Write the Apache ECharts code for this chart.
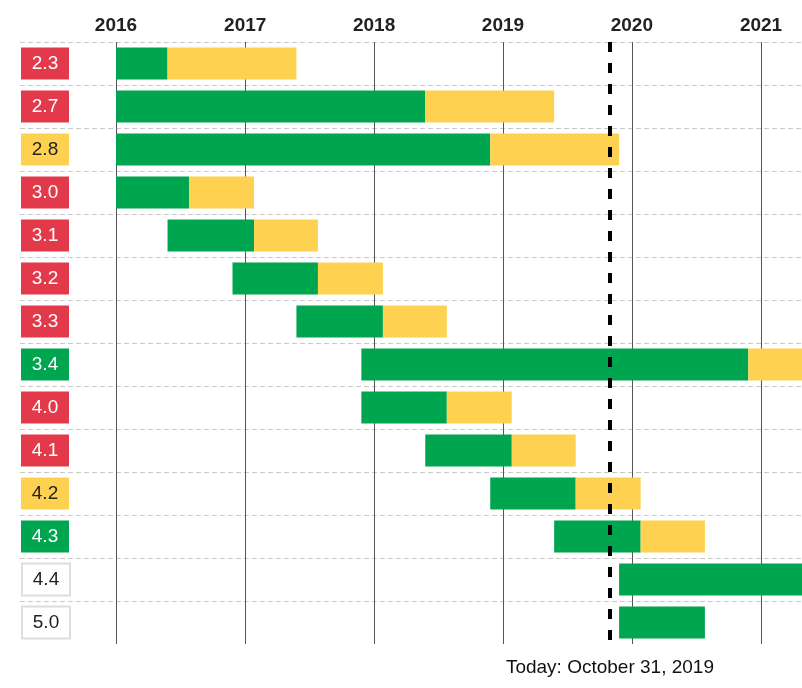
<!DOCTYPE html>
<html>
<head>
<meta charset="utf-8">
<script src="https://cdn.jsdelivr.net/npm/echarts@6/dist/echarts.min.js"></script>
<style>
html,body{margin:0;padding:0;background:#fff;}
#chart{width:802px;height:688px;}
</style>
</head>
<body>
<div id="chart"></div>
<script>
// ---- data ----
const versions = ['2.3','2.7','2.8','3.0','3.1','3.2','3.3','3.4','4.0','4.1','4.2','4.3','4.4','5.0'];
const versionStatus = ['eol','eol','security','eol','eol','eol','eol','active','eol','eol','security','active','future','future'];
const releaseDates = ['2013-05-26','2015-05-26','2015-11-26','2015-11-26','2016-05-26','2016-11-26','2017-05-26','2017-11-26','2017-11-26','2018-05-26','2018-11-26','2019-05-26','2019-11-26','2019-11-26'];
const endOfMaintenance = ['2016-05-26','2018-05-26','2018-11-26','2016-07-26','2017-01-26','2017-07-26','2018-01-26','2020-11-26','2018-07-26','2019-01-26','2019-07-26','2020-01-26','2022-11-26','2020-07-26'];
const endOfLife = ['2017-05-26','2019-05-26','2019-11-26','2017-01-26','2017-07-26','2018-01-26','2018-07-26','2021-11-26','2019-01-26','2019-07-26','2020-01-26','2020-07-26','2023-11-26',null];
const todayDate = '2019-10-31';
const todayLabel = 'Today: October 31, 2019';
const axisMin = '2016-01-01';
const axisMax = '2021-04-27';

const GREEN = '#00a64f', YELLOW = '#fed250', RED = '#e23a4b';
const FONT = 'Liberation Sans, Arial, sans-serif';

const maintData = versions.map((v, i) => [i, releaseDates[i], endOfMaintenance[i]]);
const securityData = versions.map((v, i) => endOfLife[i] ? [i, endOfMaintenance[i], endOfLife[i]] : null).filter(Boolean);

function renderItem(params, api) {
  const cat = api.value(0);
  const p0 = api.coord([api.value(1), cat]);
  const p1 = api.coord([api.value(2), cat]);
  const h = api.size([0, 1])[1] * 0.745;
  const cs = params.coordSys;
  const shape = echarts.graphic.clipRectByRect(
    { x: p0[0], y: p0[1] - h / 2, width: p1[0] - p0[0], height: h },
    { x: cs.x, y: cs.y, width: cs.width, height: cs.height }
  );
  return shape && { type: 'rect', shape: shape, style: { fill: api.visual('color') } };
}

const dims = ['cat', { name: 'start', type: 'time' }, { name: 'end', type: 'time' }];

const chart = echarts.init(document.getElementById('chart'));
chart.setOption({
  animation: false,
  textStyle: { fontFamily: FONT },
  grid: [
    { left: 116, right: 0, top: 42, height: 602, outerBoundsMode: 'none', containLabel: false },
    { left: 20, right: 0, top: 42, height: 602, outerBoundsMode: 'none', containLabel: false }
  ],
  xAxis: [
    {
      type: 'time', gridIndex: 0, position: 'top',
      min: axisMin, max: axisMax, splitNumber: 5,
      axisLine: { show: false }, axisTick: { show: false },
      splitLine: { show: true, lineStyle: { color: '#555', width: 1 } },
      axisLabel: {
        margin: 7, fontSize: 19, fontWeight: 'bold', color: '#222', fontFamily: FONT,
        showMinLabel: true, showMaxLabel: true,
        formatter: function (v) {
          const d = new Date(v);
          return (d.getMonth() === 0 && d.getDate() === 1) ? String(d.getFullYear()) : '';
        }
      }
    },
    { type: 'value', gridIndex: 1, show: false }
  ],
  yAxis: [
    {
      type: 'category', gridIndex: 0, inverse: true, data: versions,
      axisLine: { show: false }, axisTick: { show: false }, splitLine: { show: false },
      axisLabel: {
        margin: 47, fontFamily: FONT,
        formatter: function (v, i) { return '{' + versionStatus[i] + '|' + v + '}'; },
        rich: {
          eol: { backgroundColor: RED, color: '#fff', width: 48, height: 32, lineHeight: 32, align: 'center', fontSize: 19, fontFamily: FONT },
          security: { backgroundColor: YELLOW, color: '#222', width: 48, height: 32, lineHeight: 32, align: 'center', fontSize: 19, fontFamily: FONT },
          active: { backgroundColor: GREEN, color: '#fff', width: 48, height: 32, lineHeight: 32, align: 'center', fontSize: 19, fontFamily: FONT },
          future: { backgroundColor: '#fff', color: '#222', borderColor: '#ddd', borderWidth: 2, width: 46, height: 30, lineHeight: 30, align: 'center', fontSize: 19, fontFamily: FONT }
        }
      }
    },
    {
      type: 'category', gridIndex: 1, inverse: true, data: versions,
      axisLine: { show: false }, axisTick: { show: false }, axisLabel: { show: false },
      splitLine: {
        show: true, showMinLine: true, showMaxLine: false,
        lineStyle: { color: '#c8c8c8', width: 1, type: [5, 3] }
      }
    }
  ],
  series: [
    {
      name: 'Maintenance', type: 'custom', xAxisIndex: 0, yAxisIndex: 0,
      renderItem: renderItem, dimensions: dims, encode: { x: [1, 2], y: 0 },
      itemStyle: { color: GREEN }, data: maintData
    },
    {
      name: 'Security', type: 'custom', xAxisIndex: 0, yAxisIndex: 0,
      renderItem: renderItem, dimensions: dims, encode: { x: [1, 2], y: 0 },
      itemStyle: { color: YELLOW }, data: securityData,
      markLine: {
        silent: true, symbol: 'none', z: 10,
        lineStyle: { color: '#000', width: 4, type: [10, 11] },
        label: { show: true, position: 'end', distance: 14, formatter: todayLabel, color: '#111', fontSize: 19, fontFamily: FONT },
        data: [{ xAxis: todayDate }]
      }
    }
  ]
});
</script>
</body>
</html>
